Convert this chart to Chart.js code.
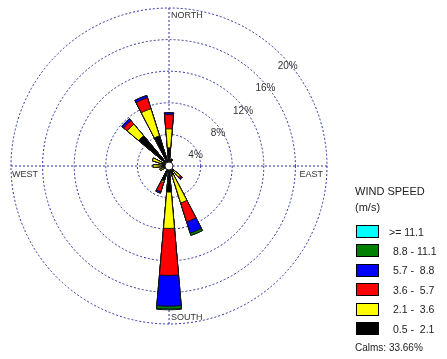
<!DOCTYPE html>
<html>
<head>
<meta charset="utf-8">
<script src="https://cdn.jsdelivr.net/npm/chart.js@4.4.1/dist/chart.umd.min.js"></script>
<style>
  body { margin:0; background:#fff; width:447px; height:359px; overflow:hidden; position:relative;
         font-family:"Liberation Sans", Arial, sans-serif; color:#222; }
  #rose { position:absolute; left:0; top:0; }
  .lg { position:absolute; white-space:pre; line-height:12px; }
  .sw { position:absolute; width:21px; height:11px; border:1px solid #000; }
</style>
</head>
<body>
<canvas id="rose" width="447" height="359"></canvas>
<div id="legend"></div>
<script>
// wind rose: % frequency per direction (clockwise from north), one array per speed class
const directions = ["N","NNE","NE","ENE","E","ESE","SE","SSE","S","SSW","SW","WSW","W","WNW","NW","NNW"];
const spd05to21  = [2.3, 0.9, 0.4, 0.3, 0.3, 0.4, 0.8,  1.2, 3.3,  2.0, 0.5, 0.7, 0.9, 1.0, 5.0, 4.0];
const spd21to36  = [2.4, 0,   0,   0,   0,   0,   1.0,  3.7, 4.6,  0.2, 0,   0.5, 1.1, 1.2, 1.9, 3.6];
const spd36to57  = [1.8, 0,   0,   0,   0,   0,   0.25, 2.5, 5.95, 1.2, 0,   0,   0,   0,   0.6, 1.45];
const spd57to88  = [0.25,0,   0,   0,   0,   0,   0.15, 1.5, 3.9,  0.2, 0,   0,   0,   0,   0.3, 0.3];
const spd88to111 = [0,   0,   0,   0,   0,   0,   0,    0.3, 0.35, 0,   0,   0,   0,   0,   0,   0];
const spd111up   = [0,   0,   0,   0,   0,   0,   0,    0,   0.1,  0,   0,   0,   0,   0,   0,   0];
const speedLabels = ["0.5 -  2.1", "2.1 -  3.6", "3.6 -  5.7", "5.7 -  8.8", "8.8 - 11.1", ">= 11.1"];
const speedColors = ["#000000", "#ffff00", "#ff0000", "#0000ff", "#008000", "#00ffff"];
const calmsPct = 33.66;
const compass = ["NORTH", "EAST", "SOUTH", "WEST"];

const bins = [spd05to21, spd21to36, spd36to57, spd57to88, spd88to111, spd111up];
const gridBlue = "#2e2e9e";
const PETAL = 10, GAP = 22.5 - PETAL;

// stacked petals: cumulative totals, smallest drawn on top (dataset 0 is drawn last)
const running = directions.map(() => 0);
const datasets = bins.map((bin, k) => {
  const data = [];
  directions.forEach((d, i) => { running[i] += bin[i]; data.push(+running[i].toFixed(2), 0); });
  return {
    label: speedLabels[k],
    data,
    backgroundColor: speedColors[k],
    borderColor: "#111",
    borderWidth: c => c.dataIndex % 2 ? 0 : 1,
    angle: c => c.dataIndex % 2 ? GAP : PETAL
  };
});

// 72 angle slots of 5 deg, starting at -5 deg, so slot 1/19/37/55 are N/E/S/W
const slots = Array.from({ length: 72 }, () => "");
const axisSlots = [1, 19, 37, 55];

const roseText = {
  id: "roseText",
  afterDatasetsDraw(chart) {
    const s = chart.scales.r, c = chart.ctx;
    const cx = s.xCenter, cy = s.yCenter, R = s.drawingArea;
    c.save();
    c.beginPath(); c.arc(cx, cy, 4, 0, Math.PI * 2);
    c.fillStyle = "#fff"; c.fill();
    c.strokeStyle = "#222"; c.lineWidth = 1; c.stroke();

    c.fillStyle = "#333";
    c.textBaseline = "middle";
    c.textAlign = "left";
    c.font = '10px "Liberation Sans", Arial, sans-serif';
    s.ticks.forEach(t => {
      if (!t.value) return;
      const d = s.getDistanceFromCenterForValue(t.value) * Math.SQRT1_2;
      c.fillText(t.value + "%", cx + d - 3, cy - d + 12);
    });

    c.font = '9px "Liberation Sans", Arial, sans-serif';
    c.fillText(compass[0], cx + 2, cy - R + 8);
    c.fillText(compass[2], cx + 2, cy + R - 6);
    c.fillText(compass[3], cx - R + 1, cy + 9);
    c.textAlign = "right";
    c.fillText(compass[1], cx + R - 4, cy + 9);
    c.restore();
  }
};

new Chart(document.getElementById("rose"), {
  type: "polarArea",
  data: { labels: slots, datasets },
  options: {
    responsive: false,
    animation: false,
    events: [],
    layout: { padding: { left: 11, top: 8, right: 120, bottom: 35 } },
    plugins: { legend: { display: false }, tooltip: { enabled: false } },
    scales: {
      r: {
        min: 0, max: 20, startAngle: -5,
        ticks: { display: false, stepSize: 4 },
        grid: { circular: true, color: gridBlue, lineWidth: 1 },
        border: { dash: [2, 2] },
        angleLines: {
          display: true,
          color: c => axisSlots.includes(c.index) ? gridBlue : "rgba(0,0,0,0)",
          lineWidth: c => axisSlots.includes(c.index) ? 1 : 0,
          borderDash: [2, 2]
        },
        pointLabels: { display: false }
      }
    }
  },
  plugins: [roseText]
});

// legend (top to bottom: highest class first)
const lg = document.getElementById("legend");
const put = (text, x, y, size) => {
  const d = document.createElement("div");
  d.className = "lg"; d.textContent = text;
  d.style.left = x + "px"; d.style.top = (y - 6) + "px"; d.style.fontSize = size + "px";
  lg.appendChild(d);
};
put("WIND SPEED", 355, 191, 11);
put("(m/s)", 355, 207, 11);
for (let k = speedLabels.length - 1, row = 0; k >= 0; k--, row++) {
  const y = 225 + row * 19.4;
  const sw = document.createElement("div");
  sw.className = "sw";
  sw.style.left = "356px"; sw.style.top = y + "px"; sw.style.background = speedColors[k];
  lg.appendChild(sw);
  put(speedLabels[k], k === 5 ? 389 : 393, y + 6.5, 10.5);
}
put("Calms: " + calmsPct.toFixed(2) + "%", 355, 348, 10);
</script>
</body>
</html>
